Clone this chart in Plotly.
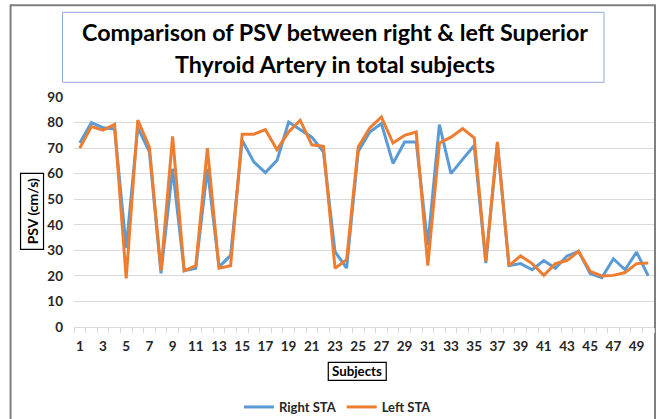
import plotly.graph_objects as go

subjects = list(range(1, 51))
right_sta = [72, 80, 78, 77.5, 31, 78, 68.5, 21, 62, 22,
             23, 62, 23.5, 28, 73, 64.6, 60.4, 65.2, 80.2, 77.2,
             74.3, 68.5, 29.5, 23, 68.7, 76.3, 79.6, 64, 72.4, 72.4,
             32, 79.2, 60, 65.6, 71, 25, 71.7, 24, 24.8, 22.4,
             26, 23, 27.8, 29.6, 20.9, 19.3, 26.7, 22.4, 29.3, 20]
left_sta = [70, 78.4, 77, 79.3, 19, 81, 70.4, 22, 74.6, 22,
            24, 70, 23, 24, 75.4, 75.4, 77.2, 69.4, 76.3, 80.9,
            71.3, 70.7, 23, 26.3, 70.4, 77.9, 82.2, 72, 75, 76.3,
            24, 72, 74.3, 77.6, 74, 25.7, 72.4, 24, 27.8, 24.8,
            20.2, 24.8, 26, 29.6, 21.8, 20, 20.2, 21.3, 24.8, 25]
x_ticks = list(range(1, 51, 2))
y_ticks = list(range(0, 91, 10))

W, H = 660, 419
L, R, T, B = 73.5, 6, 96.7, 92.3
PW, PH = W - L - R, H - T - B

def px(x):
    return (x - L) / PW

def py(y):
    return (H - B - y) / PH

FONT = "Lato"

fig = go.Figure()
fig.add_trace(go.Scatter(x=subjects, y=right_sta, mode="lines", name="Right STA",
                         line=dict(color="#5B9BD5", width=3)))
fig.add_trace(go.Scatter(x=subjects, y=left_sta, mode="lines", name="Left STA",
                         line=dict(color="#ED7D31", width=3)))

fig.update_layout(
    width=W, height=H,
    margin=dict(l=L, r=R, t=T, b=B, autoexpand=False),
    paper_bgcolor="white", plot_bgcolor="white",
    font=dict(family=FONT, size=12, color="#262626"),
    showlegend=True,
    legend=dict(orientation="h", xref="container", yref="container",
                x=338 / W, xanchor="center", y=(H - 407) / H, yanchor="middle",
                font=dict(family=FONT, size=13, color="#262626", weight="bold"),
                itemwidth=30, tracegroupgap=0, bgcolor="rgba(0,0,0,0)"),
    xaxis=dict(range=[0.5, 50.5], tickvals=x_ticks, ticktext=[str(v) for v in x_ticks],
               showgrid=False, zeroline=False, showline=False, ticks="",
               ticklabelstandoff=9, automargin=False,
               tickfont=dict(family=FONT, size=13.5, color="#262626", weight="bold"),
               minor=dict(ticks="outside", tick0=0.5, dtick=1, ticklen=5,
                          tickcolor="#D9D9D9", tickwidth=1, showgrid=False)),
    yaxis=dict(range=[0, 90], tickvals=y_ticks, showgrid=True, gridcolor="#D9D9D9",
               gridwidth=1, zeroline=True, zerolinecolor="#D9D9D9", zerolinewidth=1,
               showline=False, ticks="", ticklabelstandoff=10, automargin=False,
               tickfont=dict(family=FONT, size=13.5, color="#262626", weight="bold")),
)

shapes = [
    # outer chart border
    dict(type="rect", xref="paper", yref="paper", x0=px(10), x1=px(655), y0=py(5), y1=py(430),
         line=dict(color="#7F7F7F", width=2), layer="below"),
    # title box
    dict(type="rect", xref="paper", yref="paper", x0=px(62), x1=px(604), y0=py(12), y1=py(82),
         line=dict(color="#8FAADC", width=1)),
    # y title box
    dict(type="rect", xref="paper", yref="paper", x0=px(20), x1=px(43), y0=py(173), y1=py(249),
         line=dict(color="#000000", width=1.2)),
    # x title box
    dict(type="rect", xref="paper", yref="paper", x0=px(328), x1=px(386), y0=py(362), y1=py(380),
         line=dict(color="#000000", width=1.2)),
]
fig.update_layout(shapes=shapes)

annots = [
    dict(text="Comparison of PSV between right & left Superior", x=px(335), y=py(32)),
    dict(text="Thyroid Artery in total subjects", x=px(335), y=py(64)),
]
for a in annots:
    fig.add_annotation(text=a["text"], x=a["x"], y=a["y"], xref="paper", yref="paper",
                       xanchor="center", yanchor="middle", showarrow=False,
                       font=dict(family=FONT, size=23.3, color="#000000", weight="bold"))

fig.add_annotation(text="PSV (cm/s)", x=px(31.5), y=py(211), xref="paper", yref="paper",
                   xanchor="center", yanchor="middle", showarrow=False, textangle=-90,
                   font=dict(family=FONT, size=14, color="#000000", weight="bold"))
fig.add_annotation(text="Subjects", x=px(357), y=py(371), xref="paper", yref="paper",
                   xanchor="center", yanchor="middle", showarrow=False,
                   font=dict(family=FONT, size=13.3, color="#000000", weight="bold"))

fig.write_html("out.html", config={"displayModeBar": False},
               post_script="document.body.style.margin='0';document.body.style.overflow='hidden';")
